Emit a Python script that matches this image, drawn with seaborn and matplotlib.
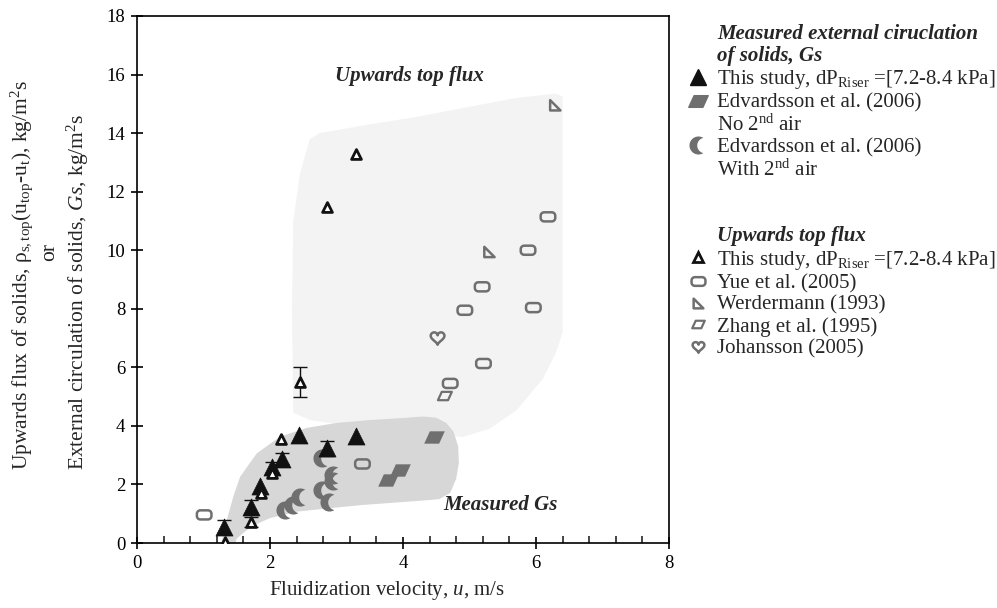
import numpy as np
import matplotlib
matplotlib.use("Agg")
import matplotlib.pyplot as plt
import seaborn as sns
from matplotlib.path import Path
from matplotlib.lines import Line2D

# --- data ---
# This study, measured external circulation Gs (filled triangles)
gs_u = [1.31, 1.71, 1.85, 2.03, 2.18, 2.44, 2.85, 3.29]
gs_y = [0.56, 1.24, 1.95, 2.58, 2.88, 3.69, 3.23, 3.65]
gs_err = [0.22, 0.23, 0.0, 0.20, 0.18, 0.0, 0.26, 0.0]

# This study, upwards top flux (open triangles)
top_u = [1.32, 1.71, 1.86, 2.03, 2.17, 2.45, 2.86, 3.29]
top_y = [0.05, 0.73, 1.72, 2.40, 3.55, 5.50, 11.46, 13.30]
top_err = [0.0, 0.17, 0.0, 0.0, 0.0, 0.52, 0.0, 0.0]

# Edvardsson et al. (2006), no 2nd air
edv_no_u = [3.78, 3.95, 4.46]
edv_no_y = [2.15, 2.49, 3.63]

# Edvardsson et al. (2006), with 2nd air
edv_with_u = [2.23, 2.35, 2.45, 2.78, 2.95, 2.95, 2.78, 2.88]
edv_with_y = [1.13, 1.30, 1.58, 2.89, 2.32, 2.13, 1.81, 1.41]

# other upwards top flux data
yue_u = [1.01, 3.39, 4.71, 4.93, 5.19, 5.21, 5.88, 5.96, 6.18]
yue_y = [0.96, 2.70, 5.45, 7.95, 8.75, 6.13, 10.00, 8.04, 11.14]
werd_u = [5.30, 6.29]
werd_y = [9.94, 14.95]
zhang_u = [4.63]
zhang_y = [5.02]
joh_u = [4.52]
joh_y = [7.02]

# shaded regions (outline vertices in data units)
top_region_u = [2.35, 2.33, 2.35, 2.45, 2.60, 2.75, 3.50, 4.20, 5.00, 5.70, 6.30, 6.40,
                6.40, 6.30, 6.10, 5.71, 5.30, 4.90, 3.50, 2.60]
top_region_y = [4.45, 8.00, 11.00, 12.60, 13.80, 14.00, 14.30, 14.55, 14.90, 15.20, 15.35, 15.25,
                7.20, 6.50, 5.60, 4.54, 3.90, 3.62, 3.90, 4.20]
gs_region_u = [1.24, 1.30, 1.35, 1.45, 1.55, 1.80, 2.15, 2.55, 3.00, 3.50, 4.00, 4.30, 4.50,
               4.65, 4.76, 4.83, 4.84, 4.80, 4.71, 4.55, 4.41, 4.00, 3.40, 2.90, 2.40, 2.00,
               1.80, 1.65, 1.50, 1.44]
gs_region_y = [-0.30, 0.30, 0.78, 1.60, 2.26, 3.06, 3.63, 3.93, 4.10, 4.20, 4.27, 4.32, 4.28,
               4.10, 3.80, 3.30, 2.73, 2.20, 1.71, 1.50, 1.47, 1.40, 1.30, 1.19, 1.07, 0.85,
               0.65, 0.44, 0.15, -0.30]

# --- style ---
sns.set_theme(style="ticks")
plt.rcParams["font.family"] = ["Liberation Serif", "DejaVu Serif"]
plt.rcParams["mathtext.fontset"] = "custom"
plt.rcParams["mathtext.rm"] = "Liberation Serif"
plt.rcParams["mathtext.it"] = "Liberation Serif:italic"
plt.rcParams["mathtext.bf"] = "Liberation Serif:bold"
FS = 15
TICK_FS = 13.5


def crescent_marker():
    a1 = np.radians(np.linspace(55, 305, 30))
    outer = np.column_stack([np.cos(a1), np.sin(a1)])
    a2 = np.radians(np.linspace(-100, -260, 30))
    inner = np.column_stack([0.72 + 0.86 * np.cos(a2), 0.86 * np.sin(a2)])
    verts = np.vstack([outer, inner, outer[:1]])
    return Path(verts, closed=True)


def rounded_rect_marker(w=1.6, h=1.0, r=0.38):
    pts = []
    corners = [(w / 2 - r, h / 2 - r, 0), (-w / 2 + r, h / 2 - r, 90),
               (-w / 2 + r, -h / 2 + r, 180), (w / 2 - r, -h / 2 + r, 270)]
    for cx, cy, a0 in corners:
        for a in np.radians(np.linspace(a0, a0 + 90, 8)):
            pts.append((cx + r * np.cos(a), cy + r * np.sin(a)))
    pts.append(pts[0])
    return Path(pts, closed=True)


def heart_marker():
    t = np.linspace(0, 2 * np.pi, 60)
    hx = 16 * np.sin(t) ** 3
    hy = 13 * np.cos(t) - 5 * np.cos(2 * t) - 2 * np.cos(3 * t) - np.cos(4 * t)
    return Path(np.column_stack([hx, hy]), closed=True)


para = Path([(-1.0, -0.6), (0.45, -0.6), (1.0, 0.6), (-0.45, 0.6), (-1.0, -0.6)], closed=True)
right_tri = Path([(-1, -1), (1, -1), (-1, 1), (-1, -1)], closed=True)
crescent = crescent_marker()
rrect = rounded_rect_marker()
heart = heart_marker()

GREY = "#6f6f6f"
BLACK = "#111111"

fig = plt.figure(figsize=(9.97, 6.08), dpi=100)
ax = fig.add_axes([137 / 997, 65 / 608, 532 / 997, 527 / 608])

ax.fill(top_region_u, top_region_y, color="#f3f3f3", lw=0, zorder=0)
ax.fill(gs_region_u, gs_region_y, color="#d7d7d7", lw=0, zorder=1)

# error bars
for u, y, e in zip(gs_u + top_u, gs_y + top_y, gs_err + top_err):
    if e > 0:
        ax.errorbar(u, y, yerr=e, fmt="none", ecolor=BLACK, elinewidth=1.0,
                    capsize=5, capthick=1.0, zorder=2)

sns.scatterplot(x=edv_with_u, y=edv_with_y, marker=crescent, s=170, color=GREY,
                edgecolor=GREY, linewidth=0, ax=ax, zorder=3)
sns.scatterplot(x=edv_no_u, y=edv_no_y, marker=para, s=220, color=GREY,
                edgecolor=GREY, linewidth=0, ax=ax, zorder=3)
sns.scatterplot(x=yue_u, y=yue_y, marker=rrect, s=110, facecolor="none",
                edgecolor=GREY, linewidth=1.8, ax=ax, zorder=3)
sns.scatterplot(x=werd_u, y=werd_y, marker=right_tri, s=55, facecolor="none",
                edgecolor=GREY, linewidth=1.8, ax=ax, zorder=3)
sns.scatterplot(x=zhang_u, y=zhang_y, marker=para, s=100, facecolor="none",
                edgecolor=GREY, linewidth=1.6, ax=ax, zorder=3)
sns.scatterplot(x=joh_u, y=joh_y, marker=heart, s=110, facecolor="none",
                edgecolor=GREY, linewidth=1.8, ax=ax, zorder=3)
sns.scatterplot(x=gs_u, y=gs_y, marker="^", s=150, color=BLACK,
                edgecolor=BLACK, linewidth=0.5, ax=ax, zorder=4)
sns.scatterplot(x=top_u, y=top_y, marker="^", s=50, facecolor="white",
                edgecolor=BLACK, linewidth=2.0, ax=ax, zorder=5)

ax.text(4.1, 15.95, "Upwards top flux", fontsize=FS, fontweight="bold",
        fontstyle="italic", ha="center", va="center")
ax.text(5.46, 1.3, "Measured Gs", fontsize=FS, fontweight="bold",
        fontstyle="italic", ha="center", va="center")

ax.set_xlim(0, 8)
ax.set_ylim(0, 18)
ax.set_xticks(np.arange(0, 8.1, 2))
ax.set_xticks(np.arange(0, 8.01, 0.4), minor=True)
ax.set_yticks(np.arange(0, 18.1, 2))
ax.tick_params(axis="both", which="major", direction="inout", length=9, width=1.2,
               labelsize=TICK_FS, colors="black", pad=4)
ax.tick_params(axis="x", which="minor", direction="in", length=5, width=1.2)
for s in ax.spines.values():
    s.set_color("black")
    s.set_linewidth(1.2)

ax.set_xlabel(r"Fluidization velocity, $\mathit{u}$, m/s", fontsize=FS, labelpad=5, x=0.47)

# y label: three rotated lines, the long ones starting at the same height
fig.text(22 / 997, 1 - 470 / 608,
         "Upwards flux of solids, $\\mathrm{\\rho_{s,top}(u_{top}}$-$\\mathrm{u_t)}$, kg/m$^2$s",
         rotation=90, fontsize=15.5, ha="center", va="bottom")
fig.text(50 / 997, 1 - 252 / 608, "or", rotation=90, fontsize=15.5, ha="center", va="center")
fig.text(78 / 997, 1 - 470 / 608,
         "External circulation of solids, $\\mathit{Gs}$, kg/m$^2$s",
         rotation=90, fontsize=15.5, ha="center", va="bottom")

# legend
blank = Line2D([], [], linestyle="none", marker=None)
handles = [
    blank, blank,
    Line2D([], [], ls="none", marker="^", ms=12, mfc=BLACK, mec=BLACK),
    Line2D([], [], ls="none", marker=para, ms=14, mfc=GREY, mec=GREY),
    blank,
    Line2D([], [], ls="none", marker=crescent, ms=13, mfc=GREY, mec=GREY, mew=0),
    blank, blank, blank, blank,
    Line2D([], [], ls="none", marker="^", ms=7, mfc="white", mec=BLACK, mew=2),
    Line2D([], [], ls="none", marker=rrect, ms=10, mfc="none", mec=GREY, mew=1.8),
    Line2D([], [], ls="none", marker=right_tri, ms=7, mfc="none", mec=GREY, mew=1.8),
    Line2D([], [], ls="none", marker=para, ms=9, mfc="none", mec=GREY, mew=1.6),
    Line2D([], [], ls="none", marker=heart, ms=9, mfc="none", mec=GREY, mew=1.8),
]
labels = [
    "Measured external ciruclation",
    "of solids, Gs",
    "This study, dP$_{\\mathrm{Riser}}$ =[7.2-8.4 kPa]",
    "Edvardsson et al. (2006)",
    "No 2$^{\\mathrm{nd}}$ air",
    "Edvardsson et al. (2006)",
    "With 2$^{\\mathrm{nd}}$ air",
    " ", " ",
    "Upwards top flux",
    "This study, dP$_{\\mathrm{Riser}}$ =[7.2-8.4 kPa]",
    "Yue et al. (2005)",
    "Werdermann (1993)",
    "Zhang et al. (1995)",
    "Johansson (2005)",
]
leg = fig.legend(handles, labels, loc="upper left", bbox_to_anchor=(688 / 997, 1 - 24 / 608),
                 frameon=False, fontsize=FS, handlelength=1.0, handletextpad=0.4,
                 labelspacing=0.1, borderpad=0, borderaxespad=0)
for i in (0, 1, 9):
    leg.get_texts()[i].set_fontweight("bold")
    leg.get_texts()[i].set_fontstyle("italic")

fig.savefig("out.png", dpi=100)
